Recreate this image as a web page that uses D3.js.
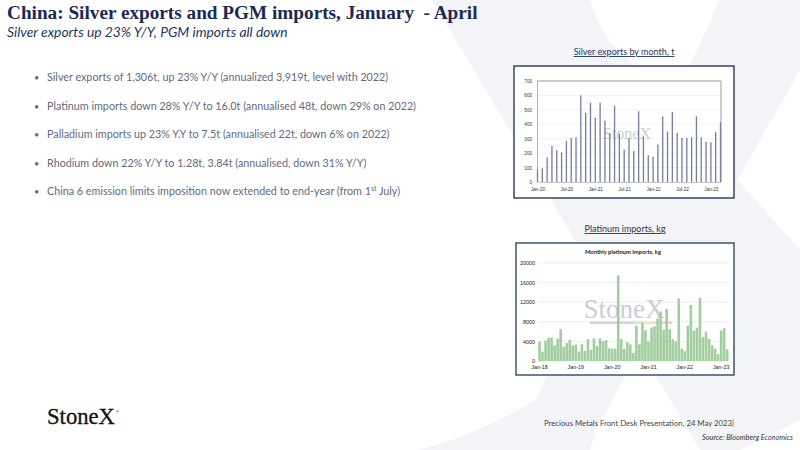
<!DOCTYPE html>
<html>
<head>
<meta charset="utf-8">
<script src="https://cdn.jsdelivr.net/npm/d3@7"></script>
<style>
  body { margin: 0; background: #fff; }
  svg { display: block; font-family: Lato, "Open Sans", sans-serif; }
</style>
</head>
<body>
<div id="slide"></div>
<script>
// silver exports, tonnes, monthly from Jan-20
const silverStart = new Date(2020, 0, 1);
const silverValues = [90, 95, 170, 250, 220, 205, 285, 305, 310, 600, 480, 550,
  445, 550, 425, 340, 530, 335, 225, 305, 215, 490, 315, 185,
  175, 260, 455, 350, 485, 340, 305, 305, 310, 455, 310, 280,
  275, 345, 415];
const silverXTicks = ['Jan-20', 'Jul-20', 'Jan-21', 'Jul-21', 'Jan-22', 'Jul-22', 'Jan-23'];
const silverYTicks = [0, 100, 200, 300, 400, 500, 600, 700];

// platinum imports, kg, monthly from Jan-18
const platStart = new Date(2018, 0, 1);
const platValues = [3900, 1900, 4150, 4750, 4800, 3200, 4550, 6500, 2900, 3650, 4350, 3200,
  3350, 1950, 3450, 2100, 4450, 2300, 4600, 3100, 4650, 4050, 4250, 2600,
  2500, 2550, 17500, 4500, 2500, 3800, 3400, 1700, 7200, 3400, 7800, 6300,
  4000, 6800, 7100, 8600, 10100, 6400, 10600, 6500, 4400, 4000, 12800, 2500,
  2000, 7200, 11400, 6200, 6800, 12900, 4900, 6000, 4500, 3200, 2500, 1400,
  6200, 6700, 2400];
const platXTicks = ['Jan-18', 'Jan-19', 'Jan-20', 'Jan-21', 'Jan-22', 'Jan-23'];
const platYTicks = [0, 4000, 8000, 12000, 16000, 20000];

const bullets = [
  'Silver exports of 1,306t, up 23% Y/Y (annualized 3,919t, level with 2022)',
  'Platinum imports down 28% Y/Y to 16.0t (annualised 48t, down 29% on 2022)',
  'Palladium imports up 23% Y.Y to 7.5t (annualised 22t, down 6% on 2022)',
  'Rhodium down 22% Y/Y to 1.28t, 3.84t (annualised, down 31% Y/Y)',
  'China 6 emission limits imposition now extended to end-year (from 1|st| July)',
];

const fmtMonth = d3.timeFormat('%b-%y');
const silverMonths = silverValues.map((_, i) => fmtMonth(d3.timeMonth.offset(silverStart, i)));
const platMonths = platValues.map((_, i) => fmtMonth(d3.timeMonth.offset(platStart, i)));

const navy = '#1c2a52';
const svg = d3.select('#slide').append('svg').attr('width', 800).attr('height', 450);

function fitWidth(sel, w) {
  const len = sel.node().getComputedTextLength();
  sel.attr('font-size', (+sel.attr('font-size')) * w / len);
}

// faint background X
const bgX = svg.append('g').attr('fill', '#f3f4f7');
bgX.append('path').attr('d', 'M432,0 L590,0 Q600,40 640,70 L800,250 L800,420 L740,450 L700,450 Z');
bgX.append('path').attr('d', 'M720,0 L800,0 L800,70 L595,430 L590,450 L540,450 Q545,420 536,400 Z');
bgX.append('path').attr('d', 'M418,450 Q470,438 536,400 L595,430 L590,450 Z');

// title + subtitle
const title = svg.append('text').attr('x', 7).attr('y', 19)
  .attr('font-family', '"Liberation Serif", "DejaVu Serif", serif')
  .attr('font-weight', 700).attr('font-size', 20).attr('fill', navy)
  .style('white-space', 'pre')
  .text('China: Silver exports and PGM imports, January  - April');
fitWidth(title, 471);

const sub = svg.append('text').attr('x', 7).attr('y', 37)
  .attr('font-style', 'italic').attr('font-size', 13).attr('fill', '#1f3560')
  .text('Silver exports up 23% Y/Y, PGM imports all down');
fitWidth(sub, 281);

// bullets
const bulletG = svg.append('g').attr('fill', '#5f6a80');
let bulletSize = null;
bullets.forEach((b, i) => {
  const y = 81 + i * 28.5;
  bulletG.append('text').attr('x', 34).attr('y', y).attr('font-size', 9).text('•');
  const t = bulletG.append('text').attr('x', 47).attr('y', y).attr('font-size', 11.5);
  const parts = b.split('|');
  parts.forEach((p, j) => {
    const ts = t.append('tspan').text(p);
    if (j === 1) ts.attr('font-size', 7).attr('dy', -4);
    if (j === 2) ts.attr('dy', 4);
  });
  if (i === 1) { fitWidth(t, 369); bulletSize = +t.attr('font-size'); }
});
bulletG.selectAll('text').filter(function () { return d3.select(this).text() !== '•'; })
  .attr('font-size', bulletSize);

function watermark(g, cx, cy, size) {
  g.append('text').attr('x', cx).attr('y', cy).attr('text-anchor', 'middle')
    .attr('font-family', '"Liberation Serif", serif').attr('font-size', size)
    .attr('fill', '#b4b9c8').attr('opacity', 0.7).text('StoneX');
}

// ---------- silver chart ----------
const sG = svg.append('g');
sG.append('text').attr('x', 624).attr('y', 55).attr('text-anchor', 'middle')
  .attr('font-size', 9).attr('fill', '#1f3560').attr('text-decoration', 'underline')
  .text('Silver exports by month, t');
sG.append('rect').attr('x', 514).attr('y', 66).attr('width', 220).attr('height', 132)
  .attr('fill', '#fff').attr('stroke', '#1c2545').attr('stroke-width', 1.3);

const sx = d3.scalePoint().domain(silverMonths).range([537.5, 720.5]);
const sy = d3.scaleLinear().domain([0, 700]).range([182, 81]);

sG.append('g').selectAll('line').data(silverYTicks.slice(1, -1)).join('line')
  .attr('x1', 537).attr('x2', 721).attr('y1', sy).attr('y2', sy)
  .attr('stroke', '#ececec').attr('stroke-width', 0.7);

sG.append('g').attr('transform', 'translate(537,0)')
  .call(d3.axisLeft(sy).tickValues(silverYTicks).tickSize(0).tickPadding(5))
  .call(g => g.select('.domain').attr('stroke', '#b0b0b0'))
  .call(g => g.selectAll('text').attr('font-size', 4.6).attr('fill', '#333'));

watermark(sG, 627, 139, 16);

sG.append('g').selectAll('rect').data(silverValues).join('rect')
  .attr('x', (d, i) => sx(silverMonths[i]) - 0.65)
  .attr('width', 1.3)
  .attr('y', d => sy(d))
  .attr('height', d => sy(0) - sy(d))
  .attr('fill', '#767d9c');

sG.append('line').attr('x1', 537).attr('x2', 721).attr('y1', sy(700)).attr('y2', sy(700))
  .attr('stroke', '#8c8c8c').attr('stroke-width', 0.9);
sG.append('line').attr('x1', 721).attr('x2', 721).attr('y1', sy(700)).attr('y2', sy(0))
  .attr('stroke', '#8c8c8c').attr('stroke-width', 0.9);

sG.append('g').attr('transform', `translate(0,${sy(0)})`)
  .call(d3.axisBottom(sx).tickValues(silverXTicks).tickSize(0).tickPadding(6))
  .call(g => g.select('.domain').attr('stroke', '#c8c8c8'))
  .call(g => g.selectAll('text').attr('font-size', 4.6).attr('fill', '#333'));

// ---------- platinum chart ----------
const pG = svg.append('g');
pG.append('text').attr('x', 625).attr('y', 232).attr('text-anchor', 'middle')
  .attr('font-size', 9).attr('fill', '#1f3560').attr('text-decoration', 'underline')
  .text('Platinum imports, kg');
pG.append('rect').attr('x', 516).attr('y', 243).attr('width', 218).attr('height', 132)
  .attr('fill', '#fff').attr('stroke', '#2f4a60').attr('stroke-width', 1.4);
pG.append('text').attr('x', 623).attr('y', 254).attr('text-anchor', 'middle')
  .attr('font-size', 5.8).attr('font-weight', 700).attr('fill', '#222')
  .text('Monthly platinum imports, kg');

const px = d3.scaleBand().domain(platMonths).range([538.2, 728.5]).paddingInner(0.14);
const py = d3.scaleLinear().domain([0, 20000]).range([361, 263]);

pG.append('g').selectAll('line').data(platYTicks).join('line')
  .attr('x1', 538).attr('x2', 729).attr('y1', py).attr('y2', py)
  .attr('stroke', '#e4e4f0').attr('stroke-width', 0.7);

pG.append('g').attr('transform', 'translate(538,0)')
  .call(d3.axisLeft(py).tickValues(platYTicks).tickFormat(d3.format('d')).tickSize(0).tickPadding(3))
  .call(g => g.select('.domain').remove())
  .call(g => g.selectAll('text').attr('font-size', 5.4).attr('fill', '#222'));

watermark(pG, 624, 318, 27);
const grad = svg.append('defs').append('linearGradient').attr('id', 'wmbar');
[['0%', '#c7cfdf'], ['48%', '#c7cfdf'], ['60%', '#dbe5cf'], ['72%', '#f3e1a8'], ['86%', '#f4cfae'], ['100%', '#eec3c3']]
  .forEach(([o, c]) => grad.append('stop').attr('offset', o).attr('stop-color', c));
pG.append('rect').attr('x', 590).attr('y', 321.5).attr('width', 82).attr('height', 2.5)
  .attr('fill', 'url(#wmbar)').attr('opacity', 0.85);

pG.append('g').selectAll('rect').data(platValues).join('rect')
  .attr('x', (d, i) => px(platMonths[i]))
  .attr('width', px.bandwidth())
  .attr('y', d => py(d))
  .attr('height', d => py(0) - py(d))
  .attr('fill', '#a2cd9e');

pG.append('g').attr('transform', `translate(0,${py(0)})`)
  .call(d3.axisBottom(px).tickValues(platXTicks).tickSize(0).tickPadding(4))
  .call(g => g.select('.domain').remove())
  .call(g => g.selectAll('text').attr('font-size', 5.4).attr('fill', '#222'));

// ---------- footer ----------
const logo = svg.append('text').attr('x', 47).attr('y', 424)
  .attr('font-family', '"Liberation Serif", serif').attr('font-size', 18).attr('fill', '#111')
  .attr('stroke', '#111').attr('stroke-width', 0.3)
  .text('StoneX');
fitWidth(logo, 68);
svg.append('text').attr('x', 116).attr('y', 413).attr('font-size', 3).attr('fill', '#111').text('®');

const pres = svg.append('text').attr('x', 734).attr('y', 426).attr('text-anchor', 'end')
  .attr('font-size', 7.4).attr('fill', '#444')
  .text('Precious Metals Front Desk Presentation, 24 May 2023|');
fitWidth(pres, 190);
const src = svg.append('text').attr('x', 793).attr('y', 440).attr('text-anchor', 'end')
  .attr('font-size', 6.4).attr('font-style', 'italic').attr('fill', '#333')
  .text('Source:  Bloomberg  Economics');
fitWidth(src, 91);
</script>
</body>
</html>
